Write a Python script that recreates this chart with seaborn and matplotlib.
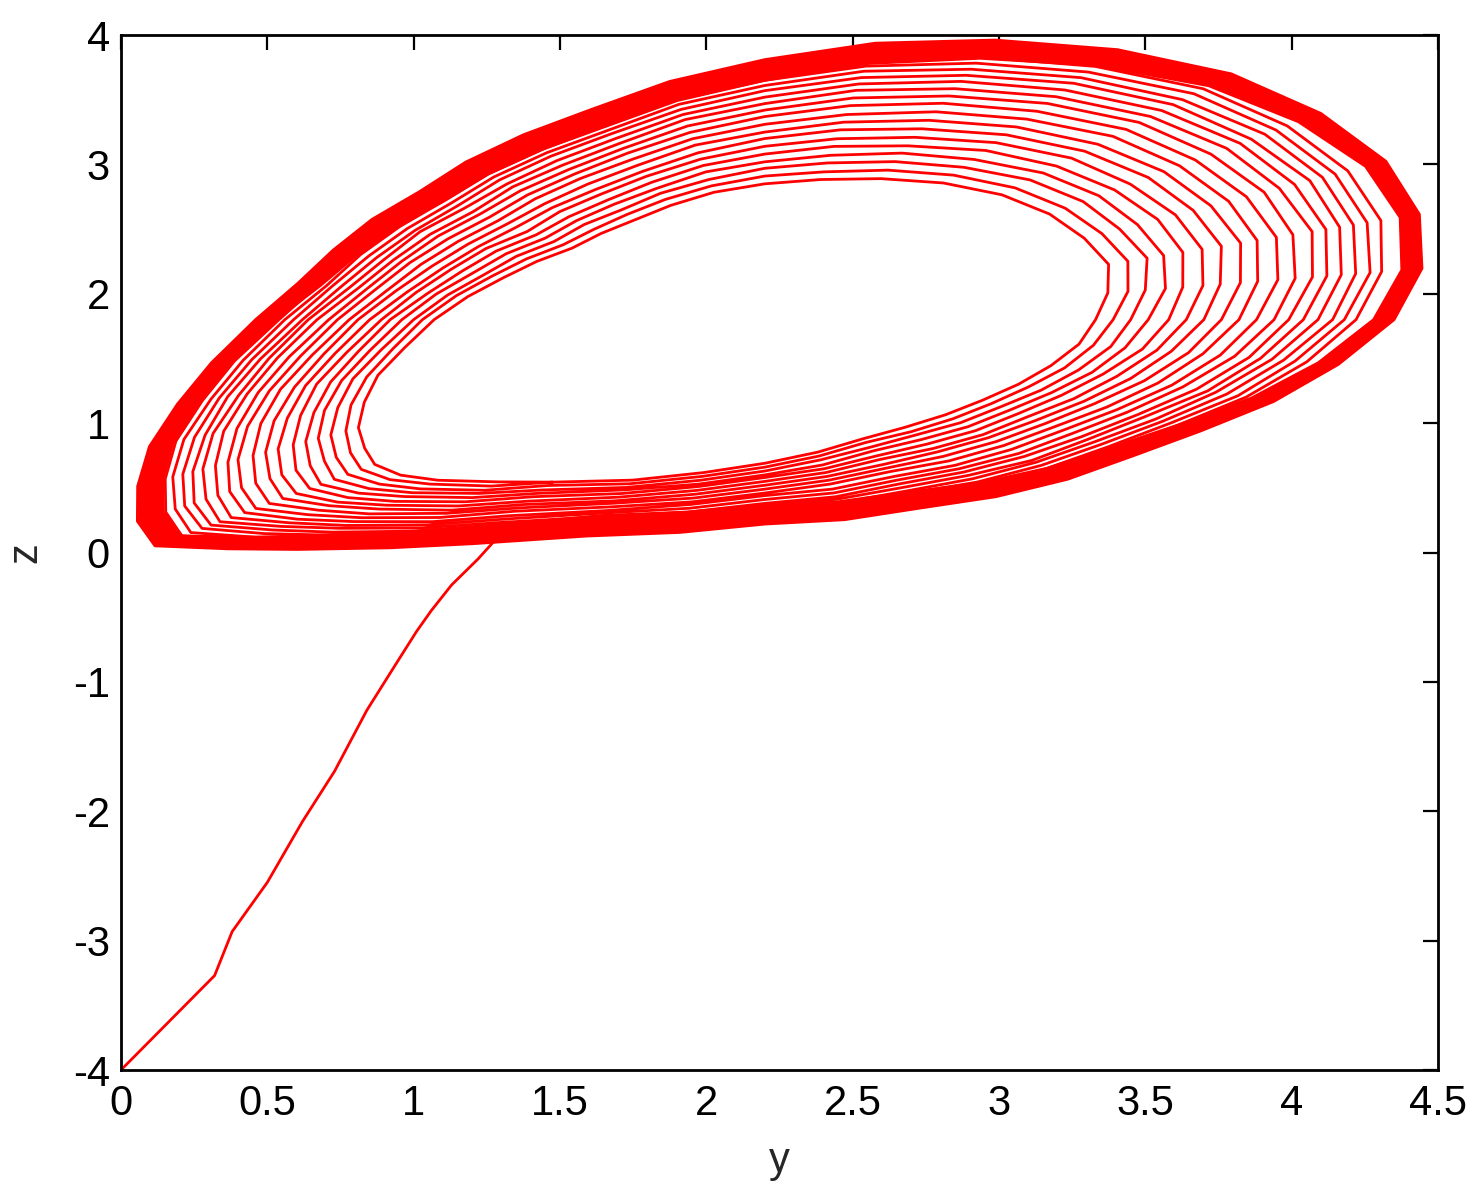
import numpy as np
import pandas as pd
import matplotlib
matplotlib.use('Agg')
import matplotlib.pyplot as plt
import seaborn as sns

centre_y, centre_z = 2.2, 1.8

# Ray directions (degrees), counter-clockwise starting where the transient joins
ray_angles = [240, 250, 260, 270, 280, 290, 300, 310, 320, 330, 340, 350, 0, 10,
              20, 30, 40, 50, 60, 70, 80, 90, 100, 110, 120, 130, 140, 150,
              160, 170, 180, 190, 198, 205, 211, 216, 220, 224, 228, 234]

# Outer edge of the attractor and inner edge of the dense (solid) band, per ray
outer_edge = [2.00, 1.78, 1.67, 1.58, 1.57, 1.55, 1.58, 1.61, 1.64, 1.72, 1.85, 1.99, 2.15, 2.28,
              2.38, 2.45, 2.48, 2.48, 2.41, 2.30, 2.17, 2.01, 1.87, 1.73, 1.65, 1.59, 1.54, 1.55,
              1.57, 1.62, 1.74, 1.92, 2.11, 2.32, 2.50, 2.65, 2.72, 2.55, 2.39, 2.18]
band_edge = [1.83, 1.61, 1.51, 1.43, 1.43, 1.42, 1.46, 1.50, 1.54, 1.63, 1.77, 1.92, 2.08, 2.21,
             2.31, 2.37, 2.38, 2.36, 2.27, 2.15, 2.01, 1.85, 1.72, 1.59, 1.52, 1.47, 1.43, 1.45,
             1.48, 1.54, 1.67, 1.85, 2.03, 2.23, 2.40, 2.54, 2.60, 2.42, 2.24, 2.02]

# Radius of each visible loop along each ray (one row per ray, innermost loop first)
loop_radii = [
    [1.45, 1.48, 1.52, 1.55, 1.58, 1.62, 1.65, 1.68, 1.71, 1.75, 1.78, 1.81, 1.84, 1.86, 1.89, 1.91, 1.93],
    [1.32, 1.35, 1.38, 1.40, 1.43, 1.46, 1.49, 1.51, 1.54, 1.57, 1.59, 1.62, 1.64, 1.66, 1.68, 1.70, 1.72],
    [1.20, 1.23, 1.26, 1.29, 1.31, 1.34, 1.37, 1.40, 1.43, 1.45, 1.48, 1.51, 1.53, 1.55, 1.57, 1.59, 1.61],
    [1.11, 1.14, 1.17, 1.20, 1.22, 1.25, 1.28, 1.31, 1.34, 1.36, 1.39, 1.42, 1.44, 1.46, 1.48, 1.50, 1.52],
    [1.04, 1.07, 1.10, 1.14, 1.17, 1.20, 1.23, 1.26, 1.29, 1.33, 1.36, 1.39, 1.41, 1.44, 1.46, 1.48, 1.50],
    [0.98, 1.01, 1.05, 1.08, 1.12, 1.15, 1.19, 1.22, 1.25, 1.29, 1.32, 1.35, 1.38, 1.41, 1.43, 1.46, 1.48],
    [0.96, 1.00, 1.03, 1.07, 1.11, 1.15, 1.18, 1.22, 1.26, 1.30, 1.33, 1.36, 1.39, 1.42, 1.45, 1.48, 1.50],
    [0.96, 1.00, 1.04, 1.08, 1.12, 1.16, 1.19, 1.23, 1.27, 1.31, 1.35, 1.38, 1.42, 1.44, 1.47, 1.50, 1.53],
    [0.97, 1.01, 1.05, 1.09, 1.13, 1.17, 1.21, 1.25, 1.29, 1.33, 1.37, 1.41, 1.44, 1.47, 1.50, 1.53, 1.56],
    [1.00, 1.04, 1.09, 1.13, 1.17, 1.22, 1.26, 1.30, 1.35, 1.39, 1.43, 1.47, 1.50, 1.54, 1.57, 1.60, 1.63],
    [1.04, 1.09, 1.14, 1.19, 1.23, 1.28, 1.33, 1.38, 1.43, 1.48, 1.52, 1.57, 1.61, 1.64, 1.68, 1.72, 1.75],
    [1.09, 1.14, 1.20, 1.25, 1.31, 1.36, 1.41, 1.47, 1.52, 1.58, 1.63, 1.68, 1.72, 1.76, 1.80, 1.84, 1.88],
    [1.13, 1.19, 1.25, 1.31, 1.38, 1.44, 1.50, 1.56, 1.62, 1.68, 1.74, 1.79, 1.84, 1.89, 1.94, 1.98, 2.02],
    [1.19, 1.26, 1.32, 1.39, 1.45, 1.52, 1.58, 1.65, 1.71, 1.78, 1.84, 1.90, 1.95, 2.00, 2.05, 2.10, 2.14],
    [1.25, 1.32, 1.39, 1.45, 1.52, 1.59, 1.66, 1.73, 1.79, 1.86, 1.92, 1.99, 2.04, 2.09, 2.14, 2.19, 2.24],
    [1.26, 1.33, 1.40, 1.47, 1.55, 1.62, 1.69, 1.76, 1.83, 1.90, 1.97, 2.03, 2.09, 2.15, 2.20, 2.25, 2.30],
    [1.27, 1.34, 1.42, 1.49, 1.56, 1.63, 1.71, 1.78, 1.85, 1.92, 1.99, 2.06, 2.12, 2.17, 2.23, 2.28, 2.33],
    [1.26, 1.33, 1.41, 1.48, 1.55, 1.63, 1.70, 1.77, 1.85, 1.92, 1.99, 2.05, 2.11, 2.17, 2.22, 2.28, 2.33],
    [1.22, 1.29, 1.36, 1.43, 1.51, 1.58, 1.65, 1.72, 1.79, 1.86, 1.93, 1.99, 2.05, 2.11, 2.16, 2.21, 2.26],
    [1.16, 1.23, 1.30, 1.37, 1.43, 1.50, 1.57, 1.64, 1.71, 1.78, 1.84, 1.90, 1.96, 2.01, 2.06, 2.11, 2.16],
    [1.10, 1.16, 1.23, 1.29, 1.36, 1.42, 1.49, 1.55, 1.61, 1.68, 1.74, 1.80, 1.85, 1.90, 1.95, 1.99, 2.04],
    [1.05, 1.11, 1.17, 1.22, 1.28, 1.34, 1.40, 1.45, 1.51, 1.57, 1.62, 1.67, 1.72, 1.77, 1.81, 1.85, 1.89],
    [1.00, 1.05, 1.10, 1.16, 1.21, 1.26, 1.31, 1.37, 1.42, 1.47, 1.52, 1.57, 1.61, 1.65, 1.69, 1.73, 1.76],
    [0.94, 0.99, 1.04, 1.08, 1.13, 1.18, 1.22, 1.27, 1.32, 1.37, 1.41, 1.45, 1.49, 1.53, 1.56, 1.60, 1.63],
    [0.89, 0.94, 0.98, 1.03, 1.07, 1.12, 1.16, 1.21, 1.26, 1.30, 1.34, 1.38, 1.42, 1.46, 1.49, 1.52, 1.56],
    [0.87, 0.91, 0.96, 1.00, 1.04, 1.09, 1.13, 1.17, 1.22, 1.26, 1.30, 1.34, 1.37, 1.41, 1.44, 1.47, 1.50],
    [0.86, 0.90, 0.94, 0.98, 1.02, 1.06, 1.11, 1.15, 1.19, 1.23, 1.27, 1.30, 1.34, 1.37, 1.40, 1.43, 1.46],
    [0.90, 0.94, 0.98, 1.02, 1.06, 1.10, 1.13, 1.17, 1.21, 1.25, 1.29, 1.32, 1.36, 1.38, 1.41, 1.44, 1.47],
    [0.95, 0.99, 1.02, 1.06, 1.10, 1.14, 1.17, 1.21, 1.25, 1.29, 1.32, 1.35, 1.38, 1.41, 1.44, 1.47, 1.49],
    [1.03, 1.07, 1.10, 1.14, 1.17, 1.21, 1.24, 1.28, 1.31, 1.35, 1.38, 1.41, 1.44, 1.47, 1.50, 1.52, 1.55],
    [1.13, 1.17, 1.20, 1.24, 1.28, 1.31, 1.35, 1.39, 1.42, 1.46, 1.49, 1.53, 1.56, 1.58, 1.61, 1.64, 1.66],
    [1.25, 1.29, 1.33, 1.37, 1.41, 1.45, 1.49, 1.53, 1.57, 1.61, 1.65, 1.69, 1.72, 1.75, 1.78, 1.81, 1.84],
    [1.39, 1.43, 1.48, 1.52, 1.56, 1.61, 1.65, 1.69, 1.74, 1.78, 1.82, 1.86, 1.89, 1.93, 1.96, 1.99, 2.02],
    [1.51, 1.56, 1.61, 1.66, 1.70, 1.75, 1.80, 1.85, 1.90, 1.95, 1.99, 2.04, 2.08, 2.11, 2.15, 2.19, 2.22],
    [1.62, 1.67, 1.73, 1.78, 1.83, 1.88, 1.94, 1.99, 2.04, 2.10, 2.14, 2.19, 2.24, 2.28, 2.32, 2.36, 2.39],
    [1.69, 1.75, 1.81, 1.86, 1.92, 1.98, 2.04, 2.09, 2.15, 2.21, 2.26, 2.31, 2.36, 2.41, 2.45, 2.49, 2.53],
    [1.74, 1.80, 1.86, 1.92, 1.98, 2.03, 2.09, 2.15, 2.21, 2.27, 2.32, 2.38, 2.43, 2.47, 2.51, 2.56, 2.60],
    [1.73, 1.78, 1.83, 1.88, 1.93, 1.98, 2.03, 2.07, 2.12, 2.17, 2.22, 2.26, 2.30, 2.34, 2.38, 2.42, 2.45],
    [1.67, 1.71, 1.76, 1.80, 1.84, 1.89, 1.93, 1.97, 2.02, 2.06, 2.10, 2.14, 2.17, 2.21, 2.24, 2.27, 2.30],
    [1.55, 1.59, 1.63, 1.66, 1.70, 1.74, 1.78, 1.82, 1.85, 1.89, 1.93, 1.96, 1.99, 2.02, 2.05, 2.08, 2.10],
]

# Transient from the initial point up to the attractor
transient_y = [0.0, 0.32, 0.38, 0.50, 0.62, 0.73, 0.84, 0.94, 1.01, 1.06, 1.13, 1.22, 1.28]
transient_z = [-4.0, -3.27, -2.93, -2.55, -2.08, -1.69, -1.22, -0.86, -0.61, -0.45, -0.25, -0.05, 0.10]

x_ticks = [0, 0.5, 1, 1.5, 2, 2.5, 3, 3.5, 4, 4.5]
x_tick_labels = ['0', '0.5', '1', '1.5', '2', '2.5', '3', '3.5', '4', '4.5']
y_ticks = [-4, -3, -2, -1, 0, 1, 2, 3, 4]
y_tick_labels = ['-4', '-3', '-2', '-1', '0', '1', '2', '3', '4']

sns.set_style('white')
plt.rcParams['font.family'] = ['Liberation Sans Narrow', 'Liberation Sans', 'DejaVu Sans']

theta = np.deg2rad(ray_angles)


def ring(r):
    r = np.asarray(r, dtype=float)
    return centre_y + r * np.cos(theta), centre_z + r * np.sin(theta)


fig = plt.figure(figsize=(14.82, 12), dpi=100)
ax = fig.add_axes([0.0816, 0.1083, 0.8887, 0.8625])

# dense outer band of the attractor
oy, oz = ring(outer_edge)
by, bz = ring(band_edge)
ax.fill(np.r_[oy, oy[0], by[0], by[::-1]], np.r_[oz, oz[0], bz[0], bz[::-1]],
        color='red', lw=0)
for yy, zz in [(oy, oz), (by, bz)]:
    edge = pd.DataFrame({'y': np.r_[yy, yy[0]], 'z': np.r_[zz, zz[0]]})
    sns.lineplot(data=edge, x='y', y='z', sort=False, estimator=None,
                 color='red', lw=2, ax=ax)

# transient followed by the loops, outside to inside
radii = np.array(loop_radii)
path_y, path_z = list(transient_y), list(transient_z)
for k in range(radii.shape[1] - 1, -1, -1):
    yy, zz = ring(radii[:, k])
    path_y += list(yy)
    path_z += list(zz)
path_y.append(yy[0])
path_z.append(zz[0])

traj = pd.DataFrame({'y': path_y, 'z': path_z})
sns.lineplot(data=traj, x='y', y='z', sort=False, estimator=None,
             color='red', lw=2, ax=ax)

ax.set_xlim(0, 4.5)
ax.set_ylim(-4, 4)
ax.set_xticks(x_ticks)
ax.set_xticklabels(x_tick_labels)
ax.set_yticks(y_ticks)
ax.set_yticklabels(y_tick_labels)
ax.tick_params(direction='in', top=True, right=True, length=11, width=1.6,
               labelsize=30, colors='black')
ax.tick_params(axis='x', pad=10)
ax.tick_params(axis='y', pad=8)
for s in ax.spines.values():
    s.set_color('black')
    s.set_linewidth(2)
ax.set_xlabel('y', fontsize=30, labelpad=12)
ax.set_ylabel('z', fontsize=30, labelpad=20)

plt.savefig('out.png', dpi=100)
